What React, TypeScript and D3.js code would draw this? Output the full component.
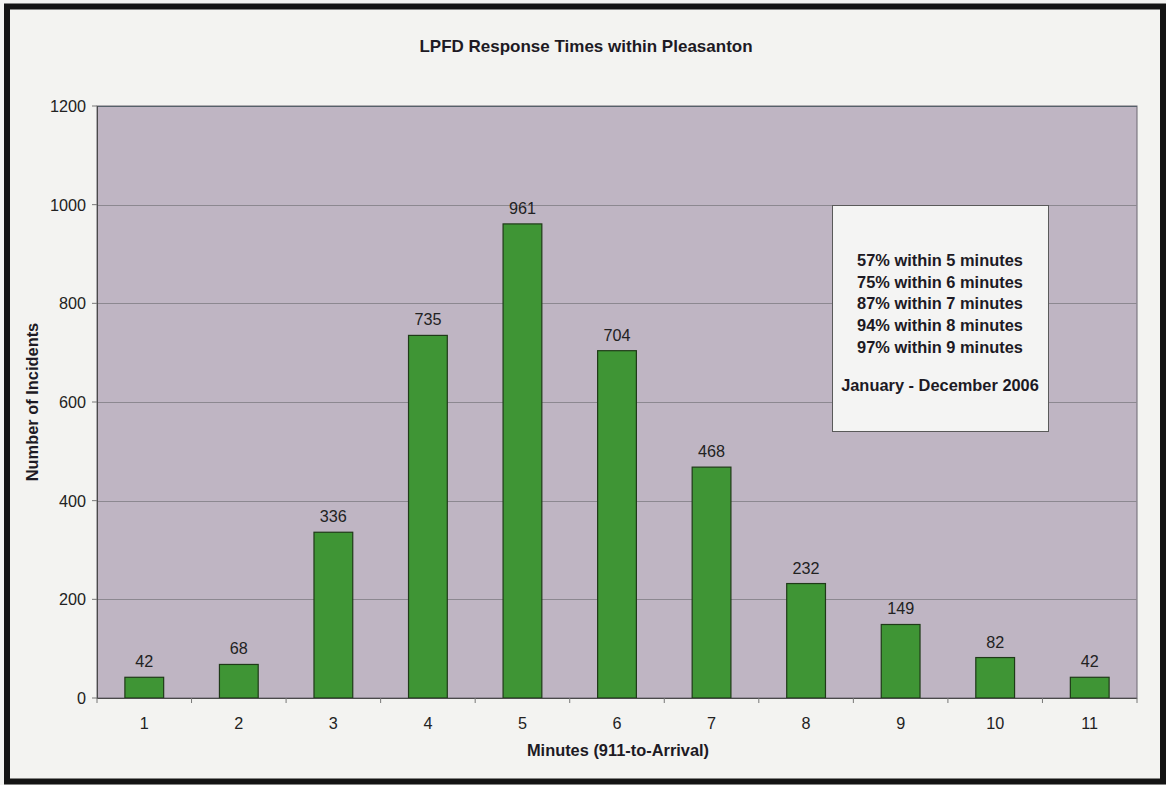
import React from "react";
import * as d3 from "d3";

// Response-time histogram: incidents by whole minutes from 911 call to arrival
const minutes = ["1", "2", "3", "4", "5", "6", "7", "8", "9", "10", "11"];
const incidents = [42, 68, 336, 735, 961, 704, 468, 232, 149, 82, 42];
const yTicks = [0, 200, 400, 600, 800, 1000, 1200];
const noteLines = [
  "57% within 5 minutes",
  "75% within 6 minutes",
  "87% within 7 minutes",
  "94% within 8 minutes",
  "97% within 9 minutes",
];
const periodLabel = "January - December 2006";
const title = "LPFD Response Times within Pleasanton";
const xTitle = "Minutes (911-to-Arrival)";
const yTitle = "Number of Incidents";

const W = 1166;
const H = 785;
const plot = { left: 97, right: 1137, top: 106, bottom: 698 };
const FONT = "'Liberation Sans', Arial, Helvetica, sans-serif";
const LABEL_SIZE = 16.2;
const BOLD_SIZE = 16.4;

export default function App() {
  const x = d3
    .scaleBand<string>()
    .domain(minutes)
    .range([plot.left, plot.right])
    .paddingInner(0.59)
    .paddingOuter(0.295);
  const y = d3.scaleLinear().domain([0, 1200]).range([plot.bottom, plot.top]);

  const boundaries = d3
    .range(minutes.length + 1)
    .map((i) => plot.left + (i * (plot.right - plot.left)) / minutes.length);

  return (
    <svg
      width={W}
      height={H}
      style={{ position: "absolute", left: 0, top: 0, display: "block" }}
      fontFamily={FONT}
    >
      <rect x={0} y={0} width={W} height={H} fill="#f3f3f1" />
      {/* chart frame */}
      <rect x={7} y={6.5} width={1156} height={775} fill="#f3f3f1" stroke="#141414" strokeWidth={6} />

      <text x={586} y={52} textAnchor="middle" fontSize={17} fontWeight="bold" fill="#1d1a24">
        {title}
      </text>

      {/* plot area */}
      <rect
        x={plot.left}
        y={plot.top}
        width={plot.right - plot.left}
        height={plot.bottom - plot.top}
        fill="#bfb5c3"
        stroke="#6a6670"
        strokeWidth={1}
      />

      {/* gridlines */}
      {yTicks.slice(1).map((t) => (
        <line
          key={"g" + t}
          x1={plot.left}
          x2={plot.right}
          y1={Math.round(y(t)) + 0.5}
          y2={Math.round(y(t)) + 0.5}
          stroke={t === 1200 ? "#55606a" : "#8c8890"}
          strokeWidth={1}
        />
      ))}

      {/* bars */}
      {incidents.map((v, i) => (
        <rect
          key={"b" + i}
          x={x(minutes[i])!}
          y={y(v)}
          width={x.bandwidth()}
          height={plot.bottom - y(v)}
          fill="#3f9535"
          stroke="#1f3a18"
          strokeWidth={1.2}
        />
      ))}

      {/* value labels */}
      {incidents.map((v, i) => (
        <text
          key={"l" + i}
          x={x(minutes[i])! + x.bandwidth() / 2}
          y={y(v) - 10}
          textAnchor="middle"
          fontSize={LABEL_SIZE}
          fill="#222"
        >
          {v}
        </text>
      ))}

      {/* x axis */}
      <line x1={plot.left} x2={plot.right} y1={plot.bottom + 0.5} y2={plot.bottom + 0.5} stroke="#4a4a4a" strokeWidth={1.2} />
      {boundaries.map((bx, i) => (
        <line key={"xt" + i} x1={bx} x2={bx} y1={plot.bottom} y2={plot.bottom + 5} stroke="#777" strokeWidth={1} />
      ))}
      {minutes.map((m) => (
        <text
          key={"xl" + m}
          x={x(m)! + x.bandwidth() / 2}
          y={729}
          textAnchor="middle"
          fontSize={LABEL_SIZE}
          fill="#222"
        >
          {m}
        </text>
      ))}
      <text x={618} y={756} textAnchor="middle" fontSize={BOLD_SIZE} fontWeight="bold" fill="#1d1a24">
        {xTitle}
      </text>

      {/* y axis */}
      <line x1={plot.left + 0.5} x2={plot.left + 0.5} y1={plot.top} y2={plot.bottom} stroke="#4a4a4a" strokeWidth={1} />
      {yTicks.map((t) => (
        <g key={"yt" + t}>
          <line x1={plot.left - 5} x2={plot.left} y1={y(t)} y2={y(t)} stroke="#777" strokeWidth={1} />
          <text x={86} y={y(t) + 6} textAnchor="end" fontSize={LABEL_SIZE} fill="#222">
            {t}
          </text>
        </g>
      ))}
      <text
        transform={`translate(38, ${(plot.top + plot.bottom) / 2}) rotate(-90)`}
        textAnchor="middle"
        fontSize={BOLD_SIZE}
        fontWeight="bold"
        fill="#1d1a24"
      >
        {yTitle}
      </text>

      {/* summary note */}
      <rect x={832.5} y={205.5} width={216} height={226} fill="#f4f4f3" stroke="#5a5a5a" strokeWidth={1} />
      {noteLines.map((s, i) => (
        <text key={"n" + i} x={940} y={266 + i * 21.7} textAnchor="middle" fontSize={16.4} fontWeight="bold" fill="#1d1a24">
          {s}
        </text>
      ))}
      <text x={940} y={391} textAnchor="middle" fontSize={16.4} fontWeight="bold" fill="#1d1a24">
        {periodLabel}
      </text>
    </svg>
  );
}
